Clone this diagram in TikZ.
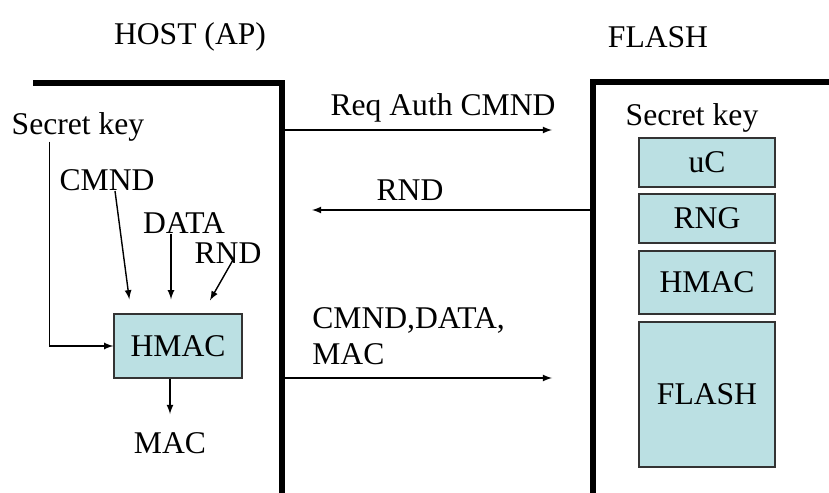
\documentclass[tikz,border=0pt]{standalone}
\usepackage{fontspec}
\setmainfont{Liberation Serif}
\usepackage{xcolor}
\usetikzlibrary{calc}
\definecolor{boxfill}{RGB}{187,224,227}

\begin{document}
\begin{tikzpicture}[x=0.02cm,y=-0.02cm,
    txt/.style={font=\fontsize{18}{20.5}\selectfont,inner sep=0pt},
    blk/.style={txt,draw=black!80,fill=boxfill,line width=0.8pt,minimum width=2.72cm},
    wall/.style={line width=3.4pt},
    arr/.style={->,line width=0.8pt,-latex}]
            \useasboundingbox (0,0) rectangle (829,493);
            % walls of host and flash
            \draw[wall] (33,83)--(282,83)--(282,493);
            \draw[wall] (829,82)--(593,82)--(593,493);
            \node[txt] (host) at (190,37) {HOST (AP)};
            \node[txt] (flash) at (658,37) {FLASH};
            % host side
            \node[txt] (skey) at (78,127) {Secret key};
            \node[txt] (cmnd) at (107,180) {CMND};
            \node[txt] (data) at (184,223) {DATA};
            \node[txt] (rnd) at (228,253) {RND};
            \node[blk,minimum width=2.56cm,minimum height=1.28cm] (hmacL) at (178,346) {HMAC};
            \node[txt] (mac) at (170,443) {MAC};
            \draw[arr] ($(skey.south west)+(38,0)$) |- (hmacL.west);
            \draw[arr] ($(cmnd.south)+(8,0)$)--($(hmacL.north west)+(16,-14)$);
            \draw[arr] ($(data.south)+(-13,0)$)--($(hmacL.north)+(-7,-14)$);
            \draw[arr] ($(rnd.center)+(5,7)$)--($(hmacL.north)+(32,-13)$);
            \draw[arr] ($(hmacL.south)+(-8,0)$)--($(mac.north)+(0,-18)$);
            % flash side
            \node[txt] (skeyR) at (692,118) {Secret key};
            \node[blk,minimum height=0.98cm] (uc) at (707,162.5) {uC};
            \node[blk,minimum height=0.98cm] (rng) at (707,218.5) {RNG};
            \node[blk,minimum height=1.26cm] (hmacR) at (707,282.5) {HMAC};
            \node[blk,minimum height=2.9cm] (flashmem) at (707,394.5) {FLASH};
            % messages
            \coordinate (reqS) at (284,130);
            \coordinate (reqE) at (552,130);
            \coordinate (rndS) at (591,210);
            \coordinate (rndE) at (312,210);
            \coordinate (macS) at (284,378);
            \coordinate (macE) at (552,378);
            \draw[arr] (reqS)--(reqE);
            \draw[arr] (rndS)--(rndE);
            \draw[arr] (macS)--(macE);
            \node[txt] (reqlbl) at (443,108) {Req Auth CMND};
            \node[txt] (rndlbl) at (410,190) {RND};
            \node[txt,align=left,anchor=west] (maclbl) at (312,336) {CMND,DATA,\\MAC};
        \end{tikzpicture}
\end{document}
